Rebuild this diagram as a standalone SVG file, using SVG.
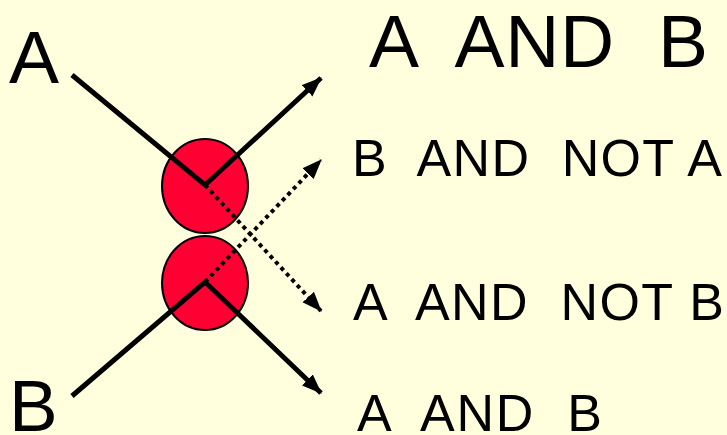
<svg xmlns="http://www.w3.org/2000/svg" width="727" height="435" viewBox="0 0 727 435">
<style>
.t{font-family:"Liberation Sans",Arial,sans-serif;fill:#000;white-space:pre}
.s{fill:none;stroke:#000;stroke-width:5}
.d{fill:none;stroke:#000;stroke-width:4;stroke-dasharray:4 4}
.c{fill:#FF0033;stroke:#000;stroke-width:2}
</style>
<defs>
<marker id="ah" markerUnits="userSpaceOnUse" markerWidth="20" markerHeight="16" refX="17" refY="7" orient="auto" viewBox="0 0 18 14">
<path d="M0,0 L18,7 L0,14 Z" fill="#000"/>
</marker>
</defs>
<rect width="727" height="435" fill="#FFFFDE"/>
<g id="gateTop"><ellipse class="c" cx="205" cy="186" rx="43" ry="47"/></g>
<g id="gateBottom"><ellipse class="c" cx="205" cy="283" rx="43" ry="47"/></g>
<g id="connectors">
<polyline class="s" points="72,75 205,185 321,78" marker-end="url(#ah)"/>
<polyline class="d" points="205,185 321,311" marker-end="url(#ah)"/>
<polyline class="d" points="205,282 321,160" marker-end="url(#ah)"/>
<polyline class="s" points="72,396 205,282 321,393" marker-end="url(#ah)"/>
</g>
<g id="inA"><text class="t" x="9" y="83" font-size="75">A</text></g>
<g id="inB"><text class="t" x="9" y="431" font-size="73">B</text></g>
<g id="out1"><text class="t" x="369" y="67" font-size="75" textLength="339" lengthAdjust="spacing">A  AND  B</text></g>
<g id="out2"><text class="t" x="352" y="176" font-size="52" textLength="370" lengthAdjust="spacing">B  AND  NOT A</text></g>
<g id="out3"><text class="t" x="353" y="320" font-size="52" textLength="371" lengthAdjust="spacing">A  AND  NOT B</text></g>
<g id="out4"><text class="t" x="357" y="431" font-size="52" textLength="245" lengthAdjust="spacing">A  AND  B</text></g>
</svg>
